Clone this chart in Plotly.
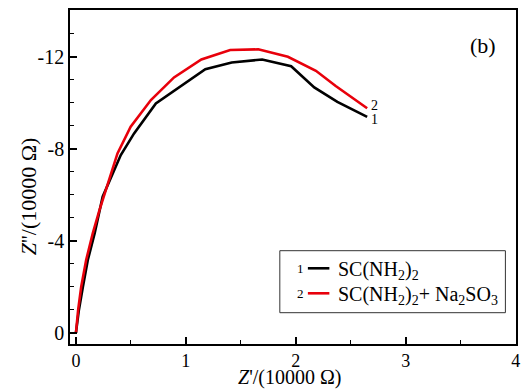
import plotly.graph_objects as go

# Data (Z' and Z'' in units of 10000 Ohm)
x_thiourea = [0.0, 0.027, 0.063, 0.108, 0.171, 0.243, 0.408, 0.529, 0.727, 1.177, 1.417, 1.694, 1.958, 2.168, 2.378, 2.649]
y_thiourea = [0.0, -1.0, -2.0, -3.17, -4.34, -5.92, -7.73, -8.67, -9.97, -11.46, -11.75, -11.88, -11.59, -10.67, -10.04, -9.39]
x_mixed = [0.0, 0.02, 0.048, 0.093, 0.153, 0.214, 0.378, 0.498, 0.682, 0.892, 1.141, 1.403, 1.658, 1.928, 2.183, 2.363, 2.649]
y_mixed = [0.0, -1.0, -2.01, -3.17, -4.33, -5.34, -7.80, -8.96, -10.12, -11.10, -11.88, -12.29, -12.32, -12.0, -11.39, -10.73, -9.76]

x_ticks = [0, 1, 2, 3, 4]
x_minor = [0.5, 1.5, 2.5, 3.5]
y_ticks = [0, -4, -8, -12]
y_tick_labels = ["0", "-4", "-8", "-12"]
y_minor = [-1, -2, -3, -5, -6, -7, -9, -10, -11, -13]
series_names = ["SC(NH<sub>2</sub>)<sub>2</sub>", "SC(NH<sub>2</sub>)<sub>2</sub>+ Na<sub>2</sub>SO<sub>3</sub>"]
series_ids = ["1", "2"]
colors = ["#000000", "#e8000b"]

FONT = "Liberation Serif, Times New Roman, serif"

W, H = 527, 390
ML, MR, MT, MB = 70, 7, 10, 46
PW, PH = W - ML - MR, H - MT - MB


def px_to_paper(px, py):
    """Convert reference-page pixel coords to paper coords."""
    return (px - ML) / PW, (H - MB - py) / PH


def note(x, y, text, size, xanchor="center", yshift=0, angle=0):
    fig.add_annotation(x=x, y=y, xref="paper", yref="paper", text=text, showarrow=False,
                       xanchor=xanchor, yanchor="middle", yshift=yshift, textangle=angle,
                       font=dict(family=FONT, size=size, color="black"))


fig = go.Figure()
fig.add_trace(go.Scatter(x=x_thiourea, y=y_thiourea, mode="lines",
                         line=dict(color=colors[0], width=2.6), showlegend=False))
fig.add_trace(go.Scatter(x=x_mixed, y=y_mixed, mode="lines",
                         line=dict(color=colors[1], width=2.6), showlegend=False))

# end labels
fig.add_annotation(x=x_mixed[-1], y=y_mixed[-1], xref="x", yref="y", text=series_ids[1],
                   showarrow=False, xanchor="center", yanchor="middle", xshift=7, yshift=3,
                   font=dict(family=FONT, size=14, color="black"))
fig.add_annotation(x=x_thiourea[-1], y=y_thiourea[-1], xref="x", yref="y", text=series_ids[0],
                   showarrow=False, xanchor="center", yanchor="middle", xshift=7, yshift=-3,
                   font=dict(family=FONT, size=14, color="black"))

# panel label
bx, by = px_to_paper(487, 46)
note(bx, by, "(b)", 22)

# manual legend
x0, y1 = px_to_paper(281.7, 250.7)
x1, y0 = px_to_paper(509.3, 312.7)
fig.add_shape(type="rect", xref="paper", yref="paper", x0=x0, x1=x1, y0=y0, y1=y1,
              line=dict(color="#333333", width=1), fillcolor="white")
for i, py in enumerate([268.3, 293.3]):
    lx0, ly = px_to_paper(310, py)
    lx1, _ = px_to_paper(331.7, py)
    nx, _ = px_to_paper(302.7, py)
    tx, _ = px_to_paper(338.5, py)
    fig.add_shape(type="line", xref="paper", yref="paper", x0=lx0, x1=lx1, y0=ly, y1=ly,
                  line=dict(color=colors[i], width=2.6))
    note(nx, ly, series_ids[i], 13)
    note(tx, ly, series_names[i], 20, xanchor="left", yshift=-2)

# axis titles
tx, ty = px_to_paper(291, 377)
note(tx, ty, "<i>Z</i>'/(10000 Ω)", 20)
tx, ty = px_to_paper(28, 196)
note(tx, ty, "<i>Z</i>''/(10000 Ω)", 22, angle=-90)

fig.update_xaxes(range=[-0.054, 4.003], tickvals=x_ticks, ticks="inside", ticklen=7, tickwidth=1.5,
                 tickcolor="black", showline=True, linecolor="black", linewidth=1.5, mirror=True,
                 showgrid=False, zeroline=False,
                 minor=dict(tickvals=x_minor, ticks="inside", ticklen=4, tickwidth=1.2, tickcolor="black"),
                 tickfont=dict(family=FONT, size=18, color="black"))
fig.update_yaxes(range=[0.48, -14.03], tickvals=y_ticks, ticktext=y_tick_labels, ticks="inside",
                 ticklen=7, tickwidth=1.5, tickcolor="black", showline=True, linecolor="black",
                 linewidth=1.5, mirror=True, showgrid=False, zeroline=False,
                 minor=dict(tickvals=y_minor, ticks="inside", ticklen=4, tickwidth=1.2, tickcolor="black"),
                 tickfont=dict(family=FONT, size=20, color="black"))

fig.update_layout(width=W, height=H, autosize=False, margin=dict(l=ML, r=MR, t=MT, b=MB),
                  plot_bgcolor="white", paper_bgcolor="white", showlegend=False)

fig.write_html("out.html", config={"displayModeBar": False},
               post_script="document.body.style.margin='0px';document.body.style.overflow='hidden';")
